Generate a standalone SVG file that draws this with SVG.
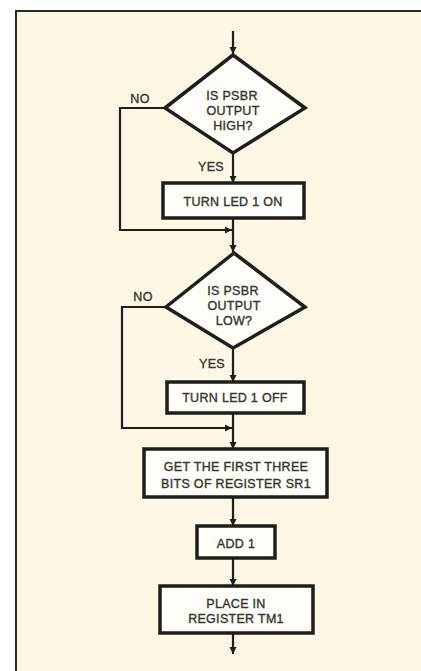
<svg xmlns="http://www.w3.org/2000/svg" width="421" height="671" viewBox="0 0 421 671">
<defs>
<marker id="ah" viewBox="0 0 10 10" refX="10" refY="5" markerWidth="7" markerHeight="8" markerUnits="userSpaceOnUse" orient="auto">
<path d="M0,0 L10,5 L0,10 Z" fill="#1e1e1a"/>
</marker>
<style>
.bg{fill:#fcf6e5}
.frame{fill:none;stroke:#2a2a24;stroke-width:2}
.box{fill:#fffdf7;stroke:#1e1e1a;stroke-width:3.5}
.dia{fill:#fffdf7;stroke:#1e1e1a;stroke-width:3.5;stroke-linejoin:miter}
.c{fill:none;stroke:#1e1e1a;stroke-width:2.2}
.a{marker-end:url(#ah)}
text{font-family:"Liberation Sans",Arial,sans-serif;font-size:12.5px;fill:#34342c;stroke:#34342c;stroke-width:0.35;text-anchor:middle;letter-spacing:0.3px}
</style>
</defs>
<rect width="421" height="671" fill="#ffffff"/>
<rect class="bg" x="16" y="11" width="405" height="660"/>
<path class="frame" d="M16,671 V11 H421"/>

<g id="connectors">
<path class="c a" d="M233,31 V54"/>
<path class="c a" d="M233,153 V183"/>
<path class="c a" d="M165,108 H120 V230 H232"/>
<path class="c a" d="M233,218 V252"/>
<path class="c a" d="M233,348 V382"/>
<path class="c a" d="M166,307 H122 V428 H232"/>
<path class="c a" d="M233,413 V449"/>
<path class="c a" d="M233,497 V526"/>
<path class="c a" d="M233,558 V586"/>
<path class="c a" d="M233,633 V654"/>
</g>

<g id="d1">
<polygon class="dia" points="233,55 305,108 233,153 165,108"/>
<text x="232" y="100">IS PSBR</text>
<text x="233" y="115">OUTPUT</text>
<text x="233" y="130">HIGH?</text>
</g>
<g id="l-no1"><text x="140" y="103">NO</text></g>
<g id="l-yes1"><text x="211" y="171">YES</text></g>

<g id="r1">
<rect class="box" x="163" y="183" width="141" height="35"/>
<text x="233" y="206">TURN LED 1 ON</text>
</g>

<g id="d2">
<polygon class="dia" points="234,253 305,307 233,348 166,307"/>
<text x="233" y="295">IS PSBR</text>
<text x="234" y="310">OUTPUT</text>
<text x="234" y="325">LOW?</text>
</g>
<g id="l-no2"><text x="143" y="301">NO</text></g>
<g id="l-yes2"><text x="212" y="368">YES</text></g>

<g id="r2">
<rect class="box" x="167" y="382" width="137" height="31"/>
<text x="235" y="402">TURN LED 1 OFF</text>
</g>

<g id="r3">
<rect class="box" x="144" y="449" width="183" height="48"/>
<text x="236" y="471">GET THE FIRST THREE</text>
<text x="236" y="488">BITS OF REGISTER SR1</text>
</g>

<g id="r4">
<rect class="box" x="197" y="526" width="78" height="32"/>
<text x="236" y="548">ADD 1</text>
</g>

<g id="r5">
<rect class="box" x="160" y="586" width="153" height="47"/>
<text x="236" y="608">PLACE IN</text>
<text x="236" y="623">REGISTER TM1</text>
</g>
</svg>
